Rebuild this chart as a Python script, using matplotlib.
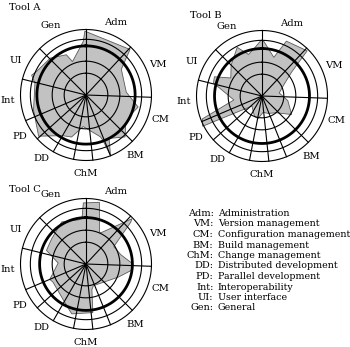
import matplotlib
matplotlib.use("Agg")
import matplotlib.pyplot as plt
import numpy as np

# ---- data ----
categories = ["Adm", "VM", "CM", "BM", "ChM", "DD", "PD", "Int", "UI", "Gen"]
descriptions = ["Administration", "Version management", "Configuration management",
                "Build management", "Change management", "Distributed development",
                "Parallel development", "Interoperability", "User interface", "General"]
label_angles = [22, 67, 108, 141, 180, 215, 238, 266, 296, 333]
spoke_angles = [0, 43, 92, 135, 158, 174, 191, 210, 228, 247, 284, 315]
ring_levels = [2, 3.1, 5.1, 6]
thick_levels = [4.5, 4.35, 4.25]

tool_a_angles = [357, 359, 44, 54, 86, 103, 115, 128, 137, 152, 158, 159.5, 161, 185,
                 199, 210, 229, 254, 283, 290, 296, 316, 334, 338]
tool_a_values = [4.9, 5.85, 5.8, 4.0, 3.7, 4.9, 4.45, 4.6, 5.25, 4.5, 6.0, 4.45, 4.05, 2.9,
                 4.07, 4.3, 5.75, 5.0, 4.8, 5.3, 5.0, 4.7, 4.1, 3.3]

tool_b_angles = [359, 2, 17, 24, 45, 51, 62, 80, 100, 122, 140, 160, 176, 190, 200, 225,
                 243, 249, 262, 285, 292, 300, 315, 333, 342, 352]
tool_b_values = [5.1, 5.0, 3.7, 5.5, 5.85, 3.5, 2.3, 1.6, 2.4, 3.2, 2.0, 1.7, 1.5, 2.1, 2.0, 1.3,
                 6.1, 5.85, 2.6, 4.6, 4.7, 3.3, 4.0, 5.0, 4.0, 4.5]

tool_c_angles = [355, 357.5, 12.3, 22.8, 26, 45.4, 47, 58, 75, 90, 97, 112, 161, 167, 172,
                 196, 205, 241, 247, 272, 289, 306, 330, 350]
tool_c_values = [4.2, 5.6, 5.78, 3.17, 3.2, 5.9, 5.6, 3.0, 3.3, 4.3, 4.3, 3.2, 2.1, 2.4, 4.5,
                 4.75, 4.2, 3.45, 3.6, 2.55, 3.83, 3.9, 4.45, 4.1]

tools = [("Tool A", tool_a_angles, tool_a_values),
         ("Tool B", tool_b_angles, tool_b_values),
         ("Tool C", tool_c_angles, tool_c_values)]

# ---- layout ----
W, H = 350, 347
fig = plt.figure(figsize=(W / 100, H / 100), dpi=100)
FONT = "DejaVu Serif"
centers = [(86, 95), (262, 96), (86, 264)]
titles_pos = [(9, 7), (190, 15), (9, 190)]
R_PX = 65.5
L = 8.0
half = L * R_PX / 6.0


def polar_xy(ang_deg, r):
    a = np.deg2rad(np.asarray(ang_deg, dtype=float))
    r = np.asarray(r, dtype=float)
    return r * np.sin(a), r * np.cos(a)


for (name, angs, vals), thick, (cx, cy), (tx, ty) in zip(tools, thick_levels, centers, titles_pos):
    ax = fig.add_axes([(cx - half) / W, (H - cy - half) / H, 2 * half / W, 2 * half / H])
    ax.set_xlim(-L, L)
    ax.set_ylim(-L, L)
    ax.axis("off")
    x, y = polar_xy(angs, vals)
    ax.fill(x, y, facecolor="#c2c2c2", edgecolor="#5a5a5a", lw=0.6, zorder=1)
    t = np.linspace(0, 360, 361)
    for lv in ring_levels:
        rx, ry = polar_xy(t, np.full_like(t, lv))
        ax.plot(rx, ry, color="black", lw=0.8, zorder=2)
    rx, ry = polar_xy(t, np.full_like(t, thick))
    ax.plot(rx, ry, color="black", lw=2.0, zorder=3)
    for sa in spoke_angles:
        sx, sy = polar_xy([sa, sa], [0, 6])
        ax.plot(sx, sy, color="black", lw=0.8, zorder=2)
    for cat, la in zip(categories, label_angles):
        lx, ly = polar_xy(la, 7.15)
        ax.text(lx, ly, cat, ha="center", va="center", fontsize=7.2, family=FONT,
                clip_on=False)
    fig.text(tx / W, 1 - ty / H, name, ha="left", va="center", fontsize=7.2, family=FONT)

# legend text
for i, (cat, desc) in enumerate(zip(categories, descriptions)):
    yy = 1 - (213.5 + 10.5 * i) / H
    fig.text(213.5 / W, yy, cat + ":", ha="right", va="center", fontsize=7.0, family=FONT)
    fig.text(218 / W, yy, desc, ha="left", va="center", fontsize=6.8, family=FONT)

fig.savefig("out.png", dpi=100)
